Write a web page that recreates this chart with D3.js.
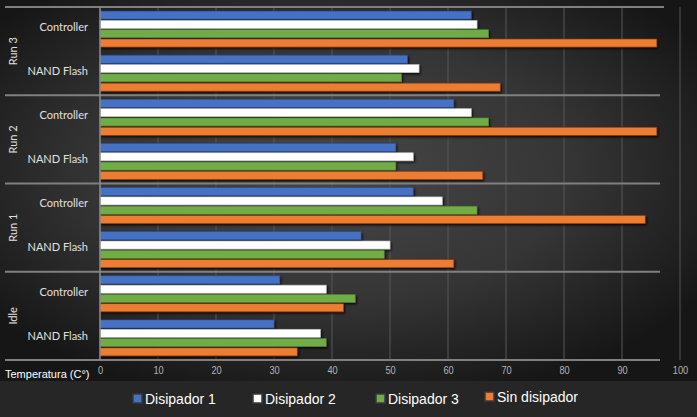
<!DOCTYPE html>
<html>
<head>
<meta charset="utf-8">
<script src="https://cdn.jsdelivr.net/npm/d3@7"></script>
<style>
  html, body { margin: 0; padding: 0; background: #262626; }
  svg { display: block; }
</style>
</head>
<body>
<svg id="chart" width="697" height="417"></svg>
<script>
// ---- data ----
const groups = ["Run 3", "Run 2", "Run 1", "Idle"];
const components = ["Controller", "NAND Flash"];
const seriesNames = ["Disipador 1", "Disipador 2", "Disipador 3", "Sin disipador"];
// order: Run3 Ctrl, Run3 NAND, Run2 Ctrl, Run2 NAND, Run1 Ctrl, Run1 NAND, Idle Ctrl, Idle NAND
const disipador1   = [64, 53, 61, 51, 54, 45, 31, 30];
const disipador2   = [65, 55, 64, 54, 59, 50, 39, 38];
const disipador3   = [67, 52, 67, 51, 65, 49, 44, 39];
const sinDisipador = [96, 69, 96, 66, 94, 61, 42, 34];
const xTicks = [0, 10, 20, 30, 40, 50, 60, 70, 80, 90, 100];
const axisTitle = "Temperatura (C°)";

const seriesValues = [disipador1, disipador2, disipador3, sinDisipador];
const colors = ["#4472c4", "#ffffff", "#70ad47", "#ed7d31"];
const borders = ["#2f528f", "#bfbfbf", "#507e32", "#8a3c0e"];

const rows = [];
groups.forEach(g => components.forEach(c => rows.push({ group: g, comp: c, id: g + "|" + c })));

const svg = d3.select("#chart");
const W = 697, H = 417;

// ---- background ----
const defs = svg.append("defs");
const rg = defs.append("radialGradient").attr("id", "bg")
  .attr("cx", "48%").attr("cy", "45%").attr("r", "62%");
rg.append("stop").attr("offset", "0%").attr("stop-color", "#474747");
rg.append("stop").attr("offset", "55%").attr("stop-color", "#353535");
rg.append("stop").attr("offset", "100%").attr("stop-color", "#161616");
svg.append("rect").attr("width", W).attr("height", H).attr("fill", "#262626");
svg.append("rect").attr("width", W).attr("height", 381).attr("fill", "url(#bg)");

const shadow = defs.append("filter").attr("id", "shadow")
  .attr("x", "-5%").attr("y", "-50%").attr("width", "110%").attr("height", "200%");
shadow.append("feDropShadow").attr("dx", 1.2).attr("dy", 1.5).attr("stdDeviation", 0.9)
  .attr("flood-color", "#000").attr("flood-opacity", 0.85);

// ---- scales ----
const x = d3.scaleLinear().domain([0, 100]).range([100, 680]);
const y = d3.scaleBand().domain(rows.map(r => r.id)).range([7, 360]).padding(0);
const yInner = d3.scaleBand().domain(seriesNames).range([0, y.bandwidth()])
  .paddingInner(0.14).paddingOuter(0.44);
const yGroup = d3.scaleBand().domain(groups).range([7, 360]).padding(0);

// ---- gridlines ----
svg.append("g").selectAll("line").data(xTicks.filter(t => t > 0)).join("line")
  .attr("x1", d => x(d)).attr("x2", d => x(d))
  .attr("y1", 7).attr("y2", 360)
  .attr("stroke", "#575757").attr("stroke-width", 1);

// ---- bars ----
const barG = svg.append("g");
seriesNames.forEach((s, si) => {
  barG.append("g").selectAll("rect").data(rows).join("rect")
    .attr("x", x(0))
    .attr("y", (d) => y(d.id) + yInner(s))
    .attr("width", (d, i) => x(seriesValues[si][i]) - x(0))
    .attr("height", yInner.bandwidth())
    .attr("fill", colors[si])
    .attr("stroke", borders[si]).attr("stroke-width", 0.6)
    .attr("filter", "url(#shadow)");
});

// ---- separators ----
const seps = groups.map(g => yGroup(g)).concat([360]);
svg.append("g").selectAll("line").data(seps).join("line")
  .attr("x1", 5).attr("x2", (d, i) => i === 0 ? 664 : 660)
  .attr("y1", d => d).attr("y2", d => d)
  .attr("stroke", "#808080").attr("stroke-width", 2);

// vertical axis line
svg.append("line").attr("x1", x(0)).attr("x2", x(0)).attr("y1", 7).attr("y2", 360)
  .attr("stroke", "#8c8c8c").attr("stroke-width", 1.5);

// ---- category labels ----
svg.append("g").selectAll("text").data(rows).join("text")
  .attr("x", 88).attr("y", d => y(d.id) + y.bandwidth() / 2 - 1)
  .attr("text-anchor", "end").attr("dominant-baseline", "middle")
  .attr("font-family", "Lato, 'Open Sans', sans-serif").attr("font-size", 11)
  .attr("fill", "#e0e0e0")
  .text(d => d.comp);

svg.append("g").selectAll("text").data(groups).join("text")
  .attr("transform", g => `translate(14,${yGroup(g) + yGroup.bandwidth() / 2}) rotate(-90)`)
  .attr("text-anchor", "middle").attr("dominant-baseline", "middle")
  .attr("font-family", "Lato, 'Open Sans', sans-serif").attr("font-size", 11)
  .attr("fill", "#e0e0e0")
  .text(g => g);

// ---- x axis ticks ----
const xAxis = d3.axisBottom(x).tickValues(xTicks).tickSize(0).tickPadding(0);
const ax = svg.append("g").attr("transform", "translate(0,367)").call(xAxis);
ax.select(".domain").remove();
ax.selectAll("text")
  .attr("font-family", "'Liberation Sans', Arial, sans-serif")
  .attr("font-size", 10.5).attr("fill", "#b3b3b3").attr("dy", "0.71em")
  .attr("transform", "scale(0.88,1)");

svg.append("text").attr("x", 5).attr("y", 378)
  .attr("font-family", "'Liberation Sans', Arial, sans-serif")
  .attr("font-size", 11).attr("fill", "#ffffff")
  .text(axisTitle);

// ---- legend ----
const legendX = [133, 253, 376, 485];
const legendDy = [0, 0, 0, -2];
const lg = svg.append("g");
seriesNames.forEach((s, i) => {
  lg.append("rect").attr("x", legendX[i]).attr("y", 394 + legendDy[i])
    .attr("width", 9).attr("height", 9)
    .attr("fill", colors[i]).attr("stroke", "#3a3a3a").attr("stroke-width", 1.5);
  lg.append("text").attr("x", legendX[i] + 12).attr("y", 404 + legendDy[i])
    .attr("font-family", "'Liberation Sans', Arial, sans-serif").attr("font-size", 14)
    .attr("fill", "#ffffff")
    .text(s);
});
</script>
</body>
</html>
